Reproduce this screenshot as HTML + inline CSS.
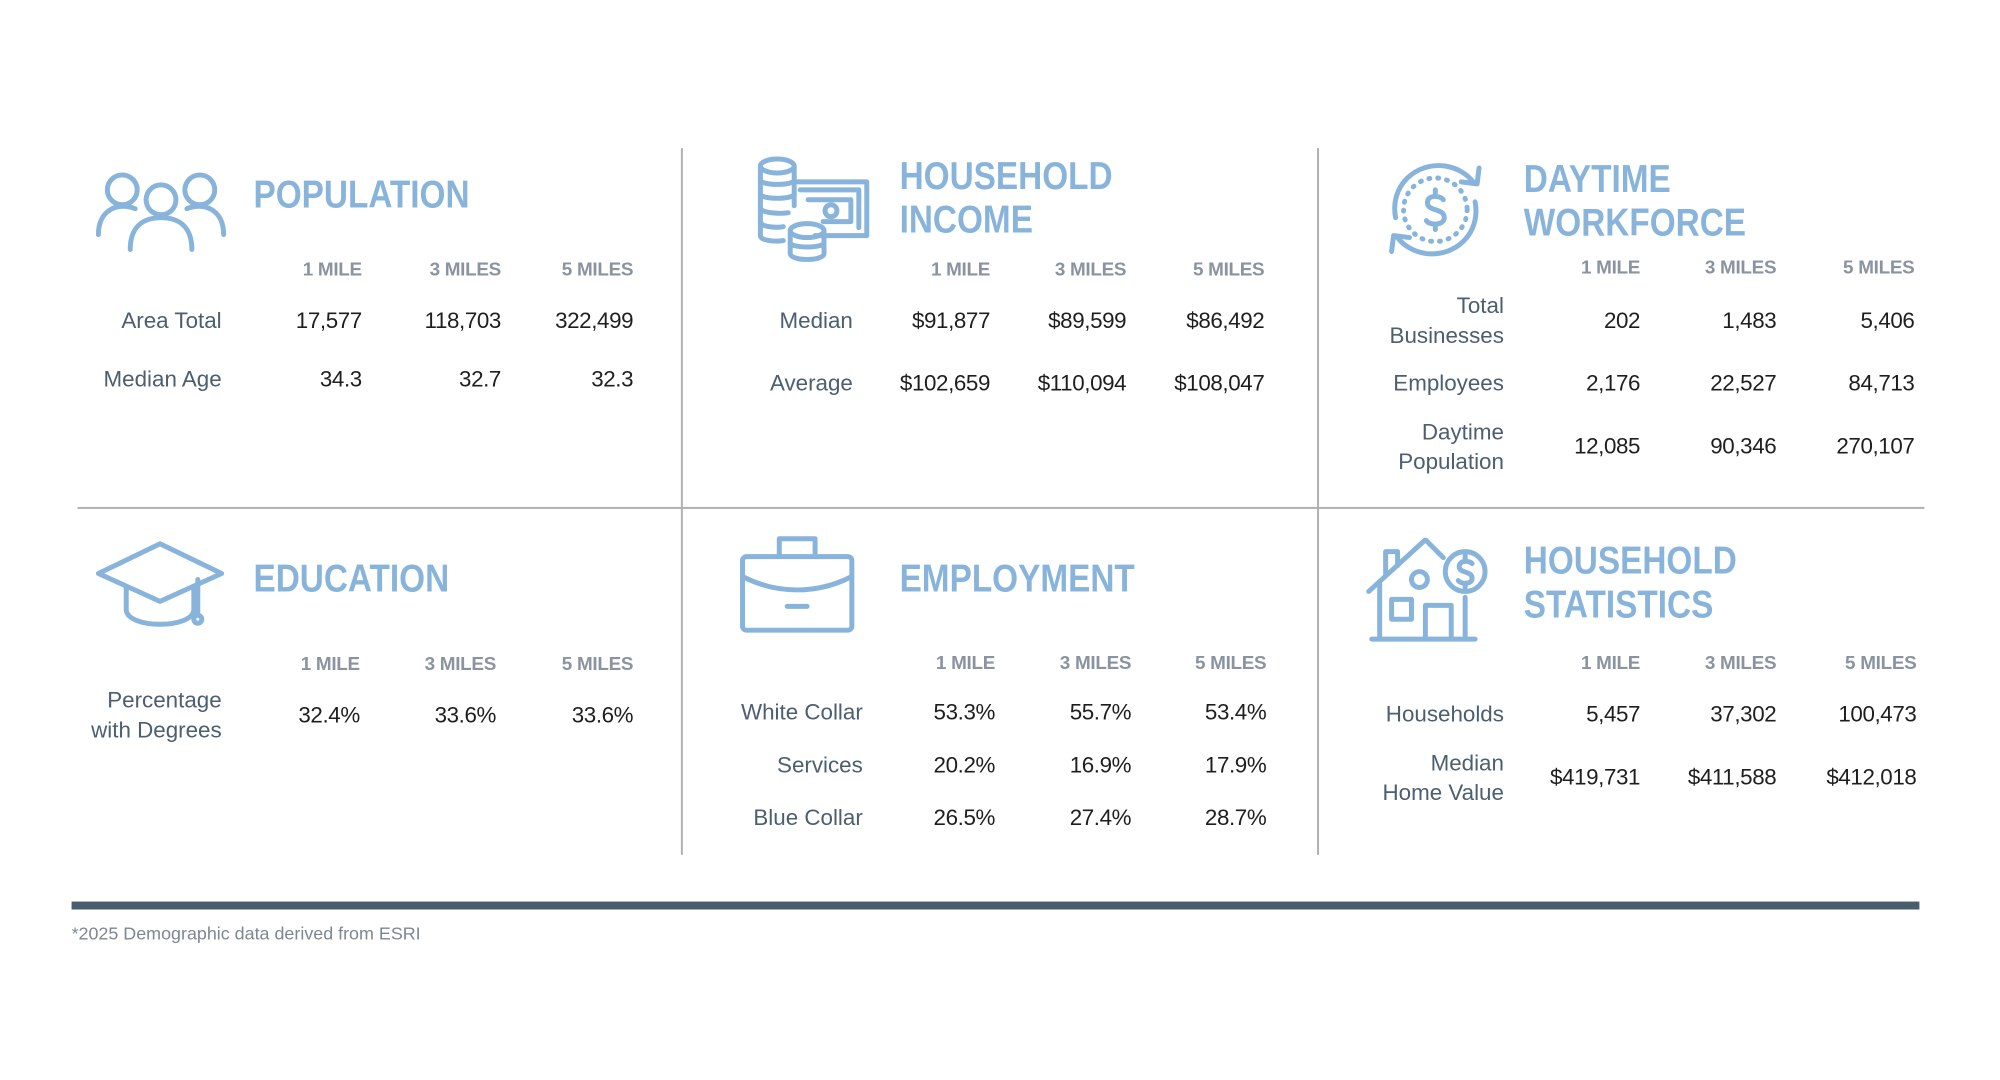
<!DOCTYPE html>
<html><head><meta charset="utf-8"><style>
html,body{margin:0;padding:0;background:#fff;}
body{width:2000px;height:1080px;position:relative;overflow:hidden;font-family:"Liberation Sans",sans-serif;}
#w{position:absolute;left:0;top:0;width:2000px;height:1080px;transform:scale(0.994);transform-origin:0 0;}
.r{position:absolute;text-align:right;white-space:nowrap;}
.h{font-size:19px;line-height:24px;color:#8a939f;font-weight:bold;letter-spacing:-0.3px;}
.v{font-size:22.5px;line-height:30px;color:#1e1e1e;letter-spacing:-0.4px;}
.l{font-size:22.5px;line-height:30px;color:#4c5e70;}
.t{position:absolute;font-size:39px;line-height:44px;font-weight:bold;color:#88b4dc;transform:scaleX(0.86);transform-origin:left top;white-space:nowrap;}
.vl{position:absolute;width:2px;background:#b0b0b0;}
svg{position:absolute;}
svg *{fill:none;stroke:#88b4dc;stroke-width:5;stroke-linecap:round;stroke-linejoin:round;}
</style></head><body><div id="w">
<div class="vl" style="left:685px;top:149px;height:711px"></div>
<div class="vl" style="left:1325px;top:149px;height:711px"></div>
<div style="position:absolute;left:78px;top:510px;width:1858px;height:2px;background:#b0b0b0"></div>
<div style="position:absolute;left:72px;top:907px;width:1859px;height:8px;background:#4a5d6e"></div>
<div style="position:absolute;left:72px;top:927px;font-size:18px;color:#7d8791;line-height:24px">*2025 Demographic data derived from ESRI</div>

<svg style="left:94px;top:170px" width="136" height="86" viewBox="0 0 136 86">
<circle cx="29" cy="21" r="15"/><circle cx="68" cy="31" r="15"/><circle cx="107" cy="21" r="15"/>
<path d="M5 66 C5 40 26 33 42 40"/><path d="M131 66 C131 40 110 33 94 40"/>
<path d="M37 81 C37 58 50 49 68 49 C86 49 99 58 99 81"/></svg>
<div class="t" style="left:255px;top:175px">POPULATION</div>
<div class="r h" style="right:1636px;top:260px">1 MILE</div>
<div class="r h" style="right:1496px;top:260px">3 MILES</div>
<div class="r h" style="right:1363px;top:260px">5 MILES</div>
<div class="r l" style="right:1777px;top:308px">Area Total</div>
<div class="r v" style="right:1636px;top:308px">17,577</div>
<div class="r v" style="right:1496px;top:308px">118,703</div>
<div class="r v" style="right:1363px;top:308px">322,499</div>
<div class="r l" style="right:1777px;top:367px">Median Age</div>
<div class="r v" style="right:1636px;top:367px">34.3</div>
<div class="r v" style="right:1496px;top:367px">32.7</div>
<div class="r v" style="right:1363px;top:367px">32.3</div>

<svg style="left:758px;top:157px" width="118" height="108" viewBox="0 0 118 108">
<ellipse cx="24" cy="10" rx="17" ry="7"/><path d="M7 10 V80 M41 10 V50"/>
<path d="M7 24 C7 30 41 30 41 24 M7 38 C7 44 41 44 41 38 M7 52 C7 58 30 58 35 57 M7 66 C7 72 25 72 30 71 M7 80 C7 86 25 86 30 85"/>
<path d="M43 26 H114 V80 H62 M47 34 H106 V72"/>
<path d="M55 44 H98 V66 H70"/><circle cx="78" cy="55" r="6"/>
<ellipse cx="54" cy="75" rx="17" ry="7"/><path d="M37 75 V98 C37 106 71 106 71 98 V75 M37 87 C37 93 71 93 71 87"/></svg>
<div class="t" style="left:905px;top:156px">HOUSEHOLD<br>INCOME</div>
<div class="r h" style="right:1004px;top:260px">1 MILE</div>
<div class="r h" style="right:867px;top:260px">3 MILES</div>
<div class="r h" style="right:728px;top:260px">5 MILES</div>
<div class="r l" style="right:1142px;top:308px">Median</div>
<div class="r v" style="right:1004px;top:308px">$91,877</div>
<div class="r v" style="right:867px;top:308px">$89,599</div>
<div class="r v" style="right:728px;top:308px">$86,492</div>
<div class="r l" style="right:1142px;top:371px">Average</div>
<div class="r v" style="right:1004px;top:371px">$102,659</div>
<div class="r v" style="right:867px;top:371px">$110,094</div>
<div class="r v" style="right:728px;top:371px">$108,047</div>

<svg style="left:1390px;top:157px" width="108" height="108" viewBox="0 0 108 108">
<path d="M14 62 C8 30 34 6 64 10 C76 12 86 18 92 26"/><path d="M80 26 L96 28 L98 12"/>
<path d="M94 46 C100 78 74 102 44 98 C32 96 22 90 16 82"/><path d="M28 82 L12 80 L10 96"/>
<circle cx="54" cy="54" r="32" stroke-dasharray="1 8" stroke-width="4"/>
<path d="M62 44 C60 40 46 38 46 47 C46 56 63 52 63 62 C63 70 48 70 45 65 M54 34 V38 M54 70 V74" stroke-width="4"/></svg>
<div class="t" style="left:1533px;top:159px">DAYTIME<br>WORKFORCE</div>
<div class="r h" style="right:350px;top:258px">1 MILE</div>
<div class="r h" style="right:213px;top:258px">3 MILES</div>
<div class="r h" style="right:74px;top:258px">5 MILES</div>
<div class="r l" style="right:487px;top:293px">Total<br>Businesses</div>
<div class="r v" style="right:350px;top:308px">202</div>
<div class="r v" style="right:213px;top:308px">1,483</div>
<div class="r v" style="right:74px;top:308px">5,406</div>
<div class="r l" style="right:487px;top:371px">Employees</div>
<div class="r v" style="right:350px;top:371px">2,176</div>
<div class="r v" style="right:213px;top:371px">22,527</div>
<div class="r v" style="right:74px;top:371px">84,713</div>
<div class="r l" style="right:487px;top:420px">Daytime<br>Population</div>
<div class="r v" style="right:350px;top:434px">12,085</div>
<div class="r v" style="right:213px;top:434px">90,346</div>
<div class="r v" style="right:74px;top:434px">270,107</div>

<svg style="left:95px;top:543px" width="134" height="94" viewBox="0 0 134 94">
<path d="M4 34 L66 4 L128 34 L66 62 Z"/><path d="M32 48 V70 C32 90 100 90 100 70 V48"/>
<path d="M104 40 V74"/><circle cx="104" cy="80" r="4"/></svg>
<div class="t" style="left:255px;top:561px">EDUCATION</div>
<div class="r h" style="right:1638px;top:657px">1 MILE</div>
<div class="r h" style="right:1501px;top:657px">3 MILES</div>
<div class="r h" style="right:1363px;top:657px">5 MILES</div>
<div class="r l" style="right:1777px;top:690px">Percentage<br>with Degrees</div>
<div class="r v" style="right:1638px;top:705px">32.4%</div>
<div class="r v" style="right:1501px;top:705px">33.6%</div>
<div class="r v" style="right:1363px;top:705px">33.6%</div>

<svg style="left:742px;top:536px" width="120" height="102" viewBox="0 0 120 102">
<path d="M42 24 V6 H78 V24"/><rect x="5" y="24" width="110" height="74" rx="4"/>
<path d="M5 44 C40 62 80 62 115 44"/><path d="M50 74 H70"/></svg>
<div class="t" style="left:905px;top:561px">EMPLOYMENT</div>
<div class="r h" style="right:999px;top:656px">1 MILE</div>
<div class="r h" style="right:862px;top:656px">3 MILES</div>
<div class="r h" style="right:726px;top:656px">5 MILES</div>
<div class="r l" style="right:1132px;top:702px">White Collar</div>
<div class="r v" style="right:999px;top:702px">53.3%</div>
<div class="r v" style="right:862px;top:702px">55.7%</div>
<div class="r v" style="right:726px;top:702px">53.4%</div>
<div class="r l" style="right:1132px;top:755px">Services</div>
<div class="r v" style="right:999px;top:755px">20.2%</div>
<div class="r v" style="right:862px;top:755px">16.9%</div>
<div class="r v" style="right:726px;top:755px">17.9%</div>
<div class="r l" style="right:1132px;top:808px">Blue Collar</div>
<div class="r v" style="right:999px;top:808px">26.5%</div>
<div class="r v" style="right:862px;top:808px">27.4%</div>
<div class="r v" style="right:726px;top:808px">28.7%</div>

<svg style="left:1374px;top:541px" width="126" height="108" viewBox="0 0 126 108">
<path d="M3 54 L60 2 L78 20"/><path d="M20 38 V14 H32 V28"/>
<path d="M14 46 V102 M100 60 V102 M6 102 H110"/>
<rect x="26" y="62" width="20" height="20"/><path d="M60 102 V68 H86 V102"/>
<circle cx="54" cy="42" r="8"/><circle cx="100" cy="34" r="20"/>
<path d="M107 26 C105 23 94 22 94 29 C94 36 107 33 107 41 C107 47 96 47 93 43 M100 18 V22 M100 46 V50" stroke-width="4"/></svg>
<div class="t" style="left:1533px;top:543px">HOUSEHOLD<br>STATISTICS</div>
<div class="r h" style="right:350px;top:656px">1 MILE</div>
<div class="r h" style="right:213px;top:656px">3 MILES</div>
<div class="r h" style="right:72px;top:656px">5 MILES</div>
<div class="r l" style="right:487px;top:704px">Households</div>
<div class="r v" style="right:350px;top:704px">5,457</div>
<div class="r v" style="right:213px;top:704px">37,302</div>
<div class="r v" style="right:72px;top:704px">100,473</div>
<div class="r l" style="right:487px;top:753px">Median<br>Home Value</div>
<div class="r v" style="right:350px;top:767px">$419,731</div>
<div class="r v" style="right:213px;top:767px">$411,588</div>
<div class="r v" style="right:72px;top:767px">$412,018</div>
</div></body></html>
